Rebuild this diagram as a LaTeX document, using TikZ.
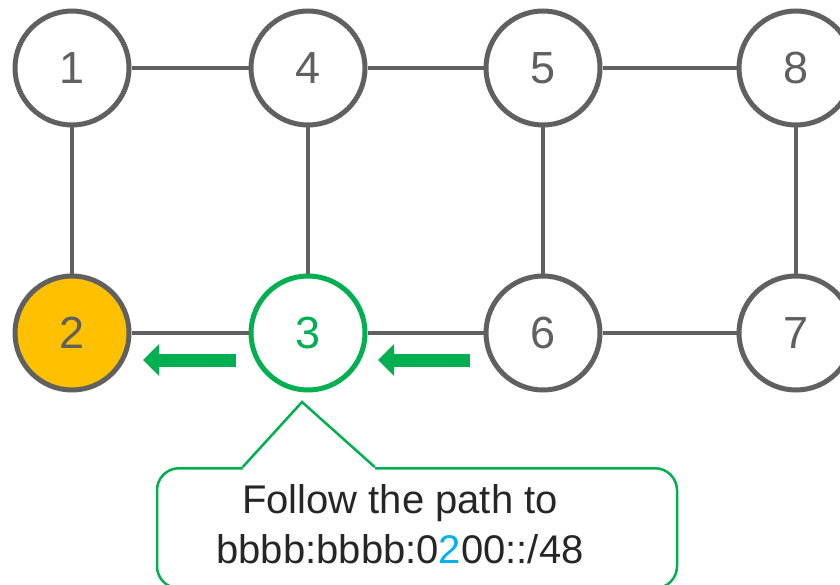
\documentclass[tikz,border=0pt]{standalone}
\usepackage{fontspec}
\setmainfont{Liberation Sans}
\usetikzlibrary{arrows.meta}
\usetikzlibrary{calc}
\definecolor{linegray}{HTML}{606060}
\definecolor{pathgreen}{HTML}{00B050}
\definecolor{hopyellow}{HTML}{FFC000}
\definecolor{addrblue}{HTML}{00B0F0}
\newcommand{\nexthop}{\textcolor{addrblue}{2}}

\begin{document}
\begin{tikzpicture}[x=1pt, y=-1pt,
                    router/.style={
                        circle, draw=linegray, line width=5pt,
                        minimum size=114pt, inner sep=0pt,
                        fill=white, text=linegray,
                        font=\fontsize{45}{54}\selectfont
                    },
                    target/.style={fill=hopyellow},
                    current/.style={draw=pathgreen, text=pathgreen},
                    link/.style={draw=linegray, line width=4pt},
                    forward/.style={
                        draw=pathgreen, line width=13pt,
                        -{Triangle[width=31pt, length=16pt]}
                    },
                    callout/.style={
                        draw=pathgreen, line width=2.5pt,
                        rounded corners=22pt
                    }]

    \useasboundingbox (0,0) rectangle (840,585);

    % top row
    \node[router] (n1) at (72,68) {1};
    \node[router] (n4) at (308,68) {4};
    \node[router] (n5) at (543,68) {5};
    \node[router] (n8) at (796,68) {8};
    % bottom row
    \node[router, target] (n2) at (72,333) {2};
    \node[router, current] (n3) at (308,333) {3};
    \node[router] (n6) at (543,333) {6};
    \node[router] (n7) at (796,333) {7};

    \draw[link] (n1) -- (n4);
    \draw[link] (n4) -- (n5);
    \draw[link] (n5) -- (n8);
    \draw[link] (n2) -- (n3);
    \draw[link] (n3) -- (n6);
    \draw[link] (n6) -- (n7);
    \draw[link] (n1) -- (n2);
    \draw[link] (n4) -- (n3);
    \draw[link] (n5) -- (n6);
    \draw[link] (n8) -- (n7);

    % forwarding arrows
    \coordinate (f1s) at (236,360);
    \coordinate (f1e) at (143,360);
    \coordinate (f2s) at (470,360);
    \coordinate (f2e) at (378,360);
    \draw[forward] (f1s) -- (f1e);
    \draw[forward] (f2s) -- (f2e);

    % callout
    \node[callout, minimum width=520pt, minimum height=120pt,
          anchor=north] (note) at (417,467) {};
    \coordinate (tip) at (302,402);
    \coordinate (b1) at ($(note.north west)+(87,0)$);
    \coordinate (b2) at ($(note.north west)+(219,0)$);
    \fill[white] (b1) -- (tip) -- (b2) -- ($(b2)+(0,4)$)
        -- ($(b1)+(0,4)$) -- cycle;
    \draw[pathgreen, line width=2.5pt, line join=miter] (b1) -- (tip) -- (b2);
    \node[align=center, anchor=base, text=black!85,
          font=\fontsize{40}{50}\selectfont] (msg) at (400,563)
        {Follow the path to\\bbbb:bbbb:0\nexthop00::/48};

\end{tikzpicture}
\end{document}
